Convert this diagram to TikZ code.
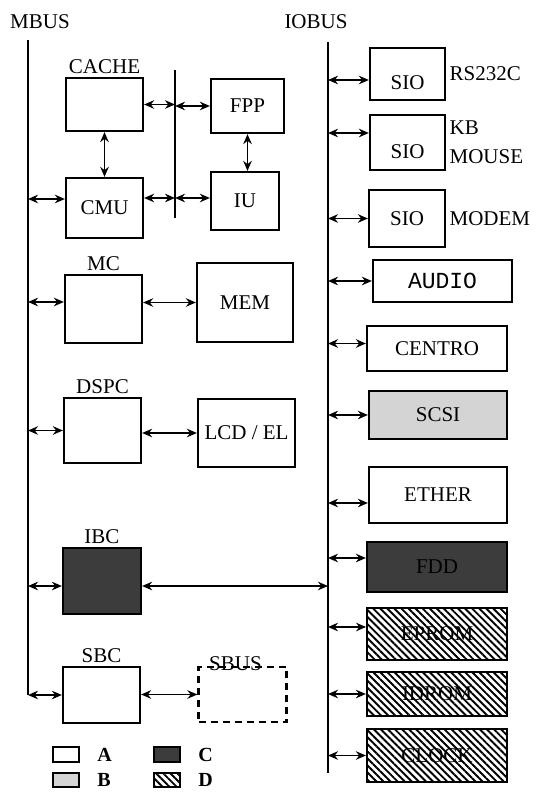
\documentclass[tikz,border=0pt]{standalone}
\usepackage{fontspec}
\setmainfont{Liberation Serif}
\newfontfamily\monofont{Liberation Mono}
\usepackage{tikz}
\usetikzlibrary{calc,arrows.meta,patterns.meta}
\definecolor{blockdark}{RGB}{60,60,60}
\definecolor{blocklight}{RGB}{212,212,212}

\begin{document}
\begin{tikzpicture}[x=1pt,y=-1pt,font=\fontsize{21}{24}\selectfont,
  blk/.style={draw,line width=2.2pt,inner sep=0pt},
  kindB/.style={fill=blocklight},
  kindC/.style={fill=blockdark},
  kindD/.style={pattern={Lines[angle=-45,distance=5pt,line width=1.9pt]}},
  legbox/.style={blk,line width=1.8pt,minimum width=26pt,minimum height=15pt},
  legtxt/.style={font=\bfseries\fontsize{20}{22}\selectfont,label distance=14pt},
  bus/.style={line width=2.4pt},
  link/.style={line width=1.9pt,{Stealth[length=10pt,width=8.5pt]}-{Stealth[length=10pt,width=8.5pt]}}]
  \useasboundingbox (0,0) rectangle (542,794);
  % buses
  \coordinate (mbtop) at (28,40); \coordinate (mbbot) at (28,695);
  \coordinate (iotop) at (328,42); \coordinate (iobot) at (328,773);
  \coordinate (midtop) at (175,70); \coordinate (midbot) at (175,218);
  \draw[bus] (mbtop)--(mbbot); \draw[bus] (iotop)--(iobot); \draw[line width=2pt] (midtop)--(midbot);
  \node (mbus) at (40,22) {MBUS}; \node (iobus) at (316,22) {IOBUS};
  % MBUS side
  \node[blk,minimum width=77pt,minimum height=53pt,label=above:CACHE] (cache) at (104.5,104.5) {};
  \node[blk,minimum width=77pt,minimum height=60pt] (cmu) at (104.5,208) {CMU};
  \node[blk,minimum width=73pt,minimum height=54pt] (fpp) at (247.5,106) {FPP};
  \node[blk,minimum width=68pt,minimum height=58pt] (iu) at (245,201) {IU};
  \node[blk,minimum width=77pt,minimum height=68pt,label=above:MC] (mc) at (103.5,309) {};
  \node[blk,minimum width=96pt,minimum height=79pt] (mem) at (245,302.5) {MEM};
  \node[blk,minimum width=77pt,minimum height=65pt,label=above:DSPC] (dspc) at (102.5,430.5) {};
  \node[blk,minimum width=97pt,minimum height=68pt] (lcd) at (246.5,433) {LCD / EL};
  \node[blk,kindC,minimum width=78pt,minimum height=66pt,label=above:IBC] (ibc) at (102,581) {};
  \node[blk,minimum width=77pt,minimum height=56pt,label=above:SBC] (sbc) at (101.5,695) {};
  \node[blk,dash pattern=on 7pt off 5pt,minimum width=88pt,minimum height=55pt,
    label={[xshift=-7pt,label distance=-8pt]above:SBUS}] (sbus) at (242.5,694.5) {};
  % IOBUS side
  \node[blk,minimum width=75pt,minimum height=52pt,label={[yshift=-9pt]center:SIO},label=right:RS232C] (sio1) at (407.5,74) {};
  \node[blk,minimum width=75pt,minimum height=55pt,label={[yshift=-9.5pt]center:SIO},
    label={[align=left,font=\fontsize{21}{29}\selectfont]right:{KB\\MOUSE}}] (sio2) at (407.5,142.5) {};
  \node[blk,minimum width=76pt,minimum height=57pt,label=right:MODEM] (sio3) at (407,218.5) {SIO};
  \node[blk,minimum width=139pt,minimum height=42pt,font=\monofont\fontsize{23}{26}\selectfont] (audio) at (442.5,281) {AUDIO};
  \node[blk,minimum width=140pt,minimum height=45pt] (centro) at (437,348.5) {CENTRO};
  \node[blk,kindB,minimum width=138pt,minimum height=48pt] (scsi) at (438,415) {SCSI};
  \node[blk,minimum width=138pt,minimum height=56pt] (ether) at (438,495) {ETHER};
  \node[blk,kindC,minimum width=140pt,minimum height=50pt] (fdd) at (437,567) {FDD};
  \node[blk,kindD,minimum width=140pt,minimum height=52pt] (eprom) at (437,634) {EPROM};
  \node[blk,kindD,minimum width=140pt,minimum height=44pt] (idrom) at (437,694) {IDROM};
  \node[blk,kindD,minimum width=140pt,minimum height=53pt] (clock) at (437,755.5) {CLOCK};
  % links, processor cluster
  \draw[link] (cache.south) -- (cmu.north);
  \draw[link] (fpp.south) -- (fpp.south |- iu.north);
  \draw[link] (cache.east) -- (cache.east -| midtop); \draw[link] (fpp.west -| midtop) -- (fpp.west);
  \draw[link] ($(cmu.east)+(0,-10)$) coordinate (cmuR) -- (cmuR -| midtop); \draw[link] (cmuR -| midtop) -- (cmuR -| iu.west);
  % links to MBUS
  \draw[link] ($(cmu.west)+(0,-9)$) coordinate (cmuL) -- (cmuL -| mbtop);
  \draw[link] ($(mc.west)+(0,-7)$) coordinate (mcL) -- (mcL -| mbtop); \draw[link] (mem.west -| mc.east) -- (mem.west);
  \draw[link] (dspc.west) -- (dspc.west -| mbtop); \draw[link] (lcd.west -| dspc.east) -- (lcd.west);
  \draw[link] ($(ibc.west)+(0,5)$) coordinate (ibcL) -- (ibcL -| mbtop); \draw[link] (ibcL -| ibc.east) -- (ibcL -| iotop);
  \draw[link] (sbc.west) -- (sbc.west -| mbtop); \draw[link] (sbus.west -| sbc.east) -- (sbus.west);
  % links to IOBUS
  \draw[link] ($(sio1.west)+(0,6)$) coordinate (s1) -- (s1 -| iotop);
  \draw[link] ($(sio2.west)+(0,-9.5)$) coordinate (s2) -- (s2 -| iotop);
  \draw[link] (sio3.west) -- (sio3.west -| iotop);
  \draw[link] (audio.west) -- (audio.west -| iotop);
  \draw[link] ($(centro.west)+(0,-5)$) coordinate (ce) -- (ce -| iotop);
  \draw[link] (scsi.west) -- (scsi.west -| iotop);
  \draw[link] ($(ether.west)+(0,8)$) coordinate (et) -- (et -| iotop);
  \draw[link] ($(fdd.west)+(0,-9)$) coordinate (fd) -- (fd -| iotop);
  \draw[link] ($(eprom.west)+(0,-7)$) coordinate (ep) -- (ep -| iotop);
  \draw[link] (idrom.west) -- (idrom.west -| iotop);
  \draw[link] (clock.west) -- (clock.west -| iotop);
  % legend
  \node[legbox,label={[legtxt]right:A}] (legA) at (66,754.5) {};
  \node[legbox,kindC,label={[legtxt]right:C}] (legC) at (167,754.5) {};
  \node[legbox,kindB,minimum height=14pt,label={[legtxt]right:B}] (legB) at (66,780) {};
  \node[legbox,kindD,minimum height=14pt,label={[legtxt]right:D}] (legD) at (167,780) {};
\end{tikzpicture}
\end{document}
